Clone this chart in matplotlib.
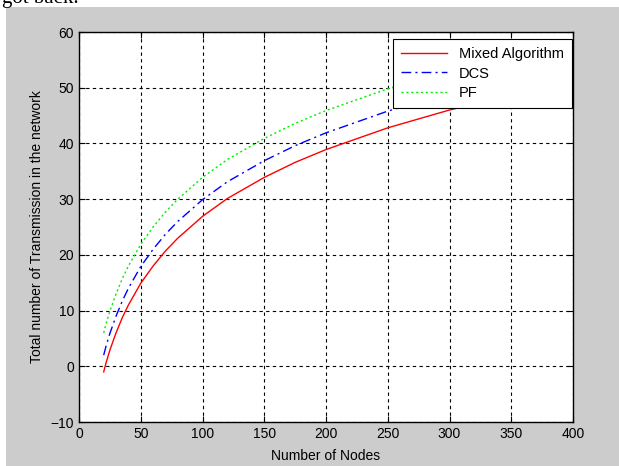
import matplotlib
matplotlib.use("Agg")
import matplotlib.pyplot as plt
from matplotlib.patches import Rectangle

plt.rcParams['font.family'] = ['Liberation Sans', 'DejaVu Sans']

nodes = [20, 22, 25, 30, 35, 40, 50, 60, 70, 80, 100, 120, 150, 175, 200, 250, 300, 350, 400]
mixed = [-1.0, 0.7, 2.9, 6.0, 8.7, 11.0, 14.9, 18.0, 20.7, 23.0, 26.9, 30.1, 33.9, 36.6, 38.9, 42.8, 46.0, 48.6, 50.9]
dcs = [2.0, 3.7, 5.9, 9.0, 11.7, 14.0, 17.9, 21.0, 23.7, 26.0, 29.9, 33.1, 36.9, 39.6, 41.9, 45.8, 49.0, 51.6, 53.9]
pf = [6.0, 7.7, 9.9, 13.0, 15.7, 18.0, 21.9, 25.0, 27.7, 30.0, 33.9, 37.1, 40.9, 43.6, 45.9, 49.8, 53.0, 55.6, 57.9]

xticks = list(range(0, 401, 50))
yticks = list(range(-10, 61, 10))

fig = plt.figure(figsize=(6.19, 4.66), dpi=100)
fig.patch.set_facecolor('white')
# grey window background below the thin white strip at the top
fig.patches.append(Rectangle((6 / 619, 0), 1, (466 - 7) / 466, transform=fig.transFigure,
                             facecolor='#cccccc', edgecolor='none', zorder=-1))
# tail of the preceding line of text, mostly above the top edge
fig.text(0.003, 1 - 2.5 / 466, "got back.", fontsize=15, va='baseline', ha='left', color='black',
         family=['Liberation Serif', 'DejaVu Serif'])

ax = fig.add_axes([79 / 619, (466 - 422) / 466, (573 - 79) / 619, (422 - 32) / 466])
ax.set_facecolor('white')

ax.plot(nodes, mixed, color='#ff0000', lw=1.0, label='Mixed Algorithm')
ax.plot(nodes, dcs, color='#0000ff', lw=1.0, linestyle=(0, (7, 3, 1.5, 3)), label='DCS')
ax.plot(nodes, pf, color='#00ee00', lw=1.0, linestyle=(0, (1.5, 2)), label='PF')

ax.set_xlim(0, 400)
ax.set_ylim(-10, 60)
ax.set_xticks(xticks)
ax.set_yticks(yticks)
ax.grid(True, color='black', linestyle=(0, (3, 3)), linewidth=0.8)
ax.tick_params(direction='in', top=True, right=True, labelsize=10, length=4)
for s in ax.spines.values():
    s.set_linewidth(1.0)

ax.set_xlabel('Number of Nodes', fontsize=10, labelpad=6)
ax.set_ylabel('Total number of Transmission in the network', fontsize=10, labelpad=5)

leg = ax.legend(loc='upper right', bbox_to_anchor=((572 - 79) / 494, (422 - 39) / 390),
                borderaxespad=0, fontsize=10.5, frameon=True, fancybox=False,
                edgecolor='black', framealpha=1, handlelength=3.2,
                labelspacing=0.38, borderpad=0.55)
leg.get_frame().set_linewidth(0.8)

fig.savefig('out.png', dpi=100)
